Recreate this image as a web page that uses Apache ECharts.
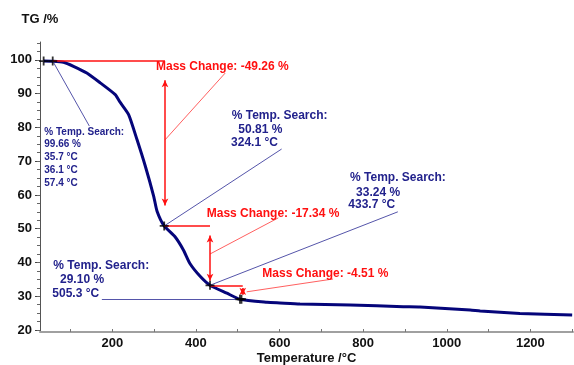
<!DOCTYPE html>
<html><head><meta charset="utf-8">
<script src="https://cdn.jsdelivr.net/npm/echarts@6/dist/echarts.min.js"></script>
<style>html,body{margin:0;padding:0;background:#fff}#c{width:574px;height:365px}</style>
</head><body><div id="c"></div>
<script>
// ---- data ----
const tempC = [35.7, 57.4, 83, 107, 139, 171, 207, 219, 239, 259, 279, 299, 307, 324.1, 350, 370, 386, 410, 433.7, 474, 505.3, 570, 601, 649, 769, 896, 936, 1056, 1080, 1175, 1300];
const tgPct = [99.66, 99.6, 99.3, 98.1, 96.1, 93.2, 89.7, 87.4, 83.8, 76.4, 68.5, 59.6, 55.2, 50.81, 47.6, 43.7, 39.6, 35.9, 33.24, 30.9, 29.1, 28.2, 28.0, 27.7, 27.4, 26.9, 26.8, 25.9, 25.6, 24.9, 24.4];
const markerT = [35.7, 57.4, 324.1, 433.7, 505.3, 509];
const markerV = [99.66, 99.66, 50.81, 33.24, 29.10, 29.10];
const xLabels = [200, 400, 600, 800, 1000, 1200];
const xTicks = [100, 200, 300, 400, 500, 600, 700, 800, 900, 1000, 1100, 1200, 1300];
const yLabels = [20, 30, 40, 50, 60, 70, 80, 90, 100];
const yMinor = [20, 22.5, 25, 27.5, 30, 32.5, 35, 37.5, 40, 42.5, 45, 47.5, 50, 52.5, 55, 57.5, 60, 62.5, 65, 67.5, 70, 72.5, 75, 77.5, 80, 82.5, 85, 87.5, 90, 92.5, 95, 97.5, 100, 102.5, 105];

// ---- annotation geometry (data coordinates) ----
const redLines = [[[57.4, 99.66], [326, 99.66]], [[324.1, 50.81], [433.7, 50.81]], [[433.7, 33.24], [512, 33.24]]];
const redArrows = [[[326, 94.0], [326, 56.9]], [[433.7, 48.0], [433.7, 34.6]], [[512, 32.4], [512, 30.4]]];
const redLeaders = [[[326, 76.3], [470, 96.1]], [[433.7, 42.5], [597, 53.2]], [[521.5, 31.3], [728, 35.1]]];
const blueLeaders = [[[57.4, 99.66], [145, 80.4]], [[324.1, 50.81], [605, 73.6]], [[433.7, 33.24], [883, 55.0]], [[175, 29.1], [505.3, 29.1]]];

const RED = '#ff1010', BLUE = '#22228c';
const texts = [
  {t: 'Mass Change: -49.26 %', x: 304.5, y: 97.93, c: RED, s: 12},
  {t: 'Mass Change: -17.34 %', x: 425.8, y: 54.58, c: RED, s: 12},
  {t: 'Mass Change: -4.51 %', x: 558.9, y: 36.80, c: RED, s: 12},
  {t: '% Temp. Search:', x: 485.6, y: 83.41, c: BLUE, s: 12},
  {t: '50.81 %', x: 501.4, y: 79.47, c: BLUE, s: 12},
  {t: '324.1 °C', x: 484.0, y: 75.61, c: BLUE, s: 12},
  {t: '% Temp. Search:', x: 768.7, y: 65.04, c: BLUE, s: 12},
  {t: '33.24 %', x: 783.0, y: 60.80, c: BLUE, s: 12},
  {t: '433.7 °C', x: 764.6, y: 57.04, c: BLUE, s: 12},
  {t: '% Temp. Search:', x: 58.9, y: 38.96, c: BLUE, s: 12},
  {t: '29.10 %', x: 74.9, y: 35.02, c: BLUE, s: 12},
  {t: '505.3 °C', x: 56.5, y: 30.87, c: BLUE, s: 12},
  {t: '% Temp. Search:', x: 37.3, y: 78.58, c: BLUE, s: 10},
  {t: '99.66 %', x: 37.3, y: 75.02, c: BLUE, s: 10},
  {t: '35.7 °C', x: 37.3, y: 71.06, c: BLUE, s: 10},
  {t: '36.1 °C', x: 37.3, y: 67.20, c: BLUE, s: 10},
  {t: '57.4 °C', x: 37.3, y: 63.47, c: BLUE, s: 10}
];

const FONT = '"Liberation Sans", Arial, sans-serif';
const chart = echarts.init(document.getElementById('c'), null, {renderer: 'canvas'});

const seg = (arr) => arr.map(s => [{coord: s[0]}, {coord: s[1]}]);

const option = {
  animation: false,
  backgroundColor: '#ffffff',
  grid: {left: 40, right: 1, top: 42, bottom: 33, containLabel: false, outerBoundsMode: 'none'},
  xAxis: {
    type: 'value', min: 27, max: 1302,
    name: 'Temperature /°C', nameLocation: 'middle', nameGap: 20, nameMoveOverlap: false,
    nameTextStyle: {fontFamily: FONT, fontWeight: 'bold', fontSize: 13, color: '#111'},
    axisLine: {show: true, onZero: false, lineStyle: {color: '#a0a0a0', width: 2}},
    axisTick: {show: true, inside: true, length: 3, customValues: xTicks, lineStyle: {color: '#777'}},
    axisLabel: {customValues: xLabels, formatter: v => String(v), fontFamily: FONT, fontWeight: 'bold', fontSize: 13, color: '#111', margin: 5},
    splitLine: {show: false}
  },
  yAxis: [{
    type: 'value', min: 19.4, max: 105.3,
    name: 'TG /%', nameLocation: 'end', nameGap: 16,
    nameTextStyle: {fontFamily: FONT, fontWeight: 'bold', fontSize: 13, color: '#111'},
    axisLine: {show: true, onZero: false, lineStyle: {color: '#555', width: 1}},
    axisTick: {show: true, length: 5, customValues: yLabels, lineStyle: {color: '#444'}},
    axisLabel: {customValues: yLabels, formatter: v => String(v), fontFamily: FONT, fontWeight: 'bold', fontSize: 13, color: '#111', margin: 8},
    splitLine: {show: false}
  }, {
    type: 'value', min: 19.4, max: 105.3, position: 'left',
    axisLine: {show: false},
    axisTick: {show: true, length: 3, customValues: yMinor, lineStyle: {color: '#666'}},
    axisLabel: {show: false},
    splitLine: {show: false}
  }],
  series: [
    {
      type: 'line', data: tempC.map((t, i) => [t, tgPct[i]]), showSymbol: false, smooth: 0.2,
      lineStyle: {color: '#05057a', width: 3}, z: 3
    },
    {
      type: 'line', data: [], z: 2,
      markLine: {silent: true, symbol: 'none', label: {show: false}, animation: false,
        lineStyle: {color: RED, width: 1.5, type: 'solid'}, data: seg(redLines)}
    },
    {
      type: 'line', data: [], z: 2,
      markLine: {silent: true, symbol: 'none', label: {show: false}, animation: false,
        lineStyle: {color: '#ff6060', width: 1, type: 'solid'}, data: seg(redLeaders)}
    },
    {
      type: 'line', data: [], z: 2,
      markLine: {silent: true, symbol: 'none', label: {show: false}, animation: false,
        lineStyle: {color: '#5555aa', width: 1, type: 'solid'}, data: seg(blueLeaders)}
    },
    {
      type: 'line', data: [], z: 4,
      markLine: {silent: true, symbol: ['arrow', 'arrow'], symbolSize: [5, 7], label: {show: false}, animation: false,
        lineStyle: {color: RED, width: 1.5, type: 'solid'}, data: seg(redArrows)}
    },
    {
      type: 'scatter', data: markerT.map((t, i) => [t, markerV[i]]),
      symbol: 'path://M4,0H6V4H10V6H6V10H4V6H0V4H4Z', symbolSize: 9,
      itemStyle: {color: '#000'}, z: 6
    }
  ]
};
chart.setOption(option);

const gfx = texts.map(o => {
  const p = chart.convertToPixel({xAxisIndex: 0, yAxisIndex: 0}, [o.x, o.y]);
  return {type: 'text', x: p[0], y: p[1], z: 10,
    style: {text: o.t, fill: o.c, fontFamily: FONT, fontWeight: 'bold', fontSize: o.s, align: 'left', verticalAlign: 'middle'}};
});
chart.setOption({graphic: gfx});
</script></body></html>
